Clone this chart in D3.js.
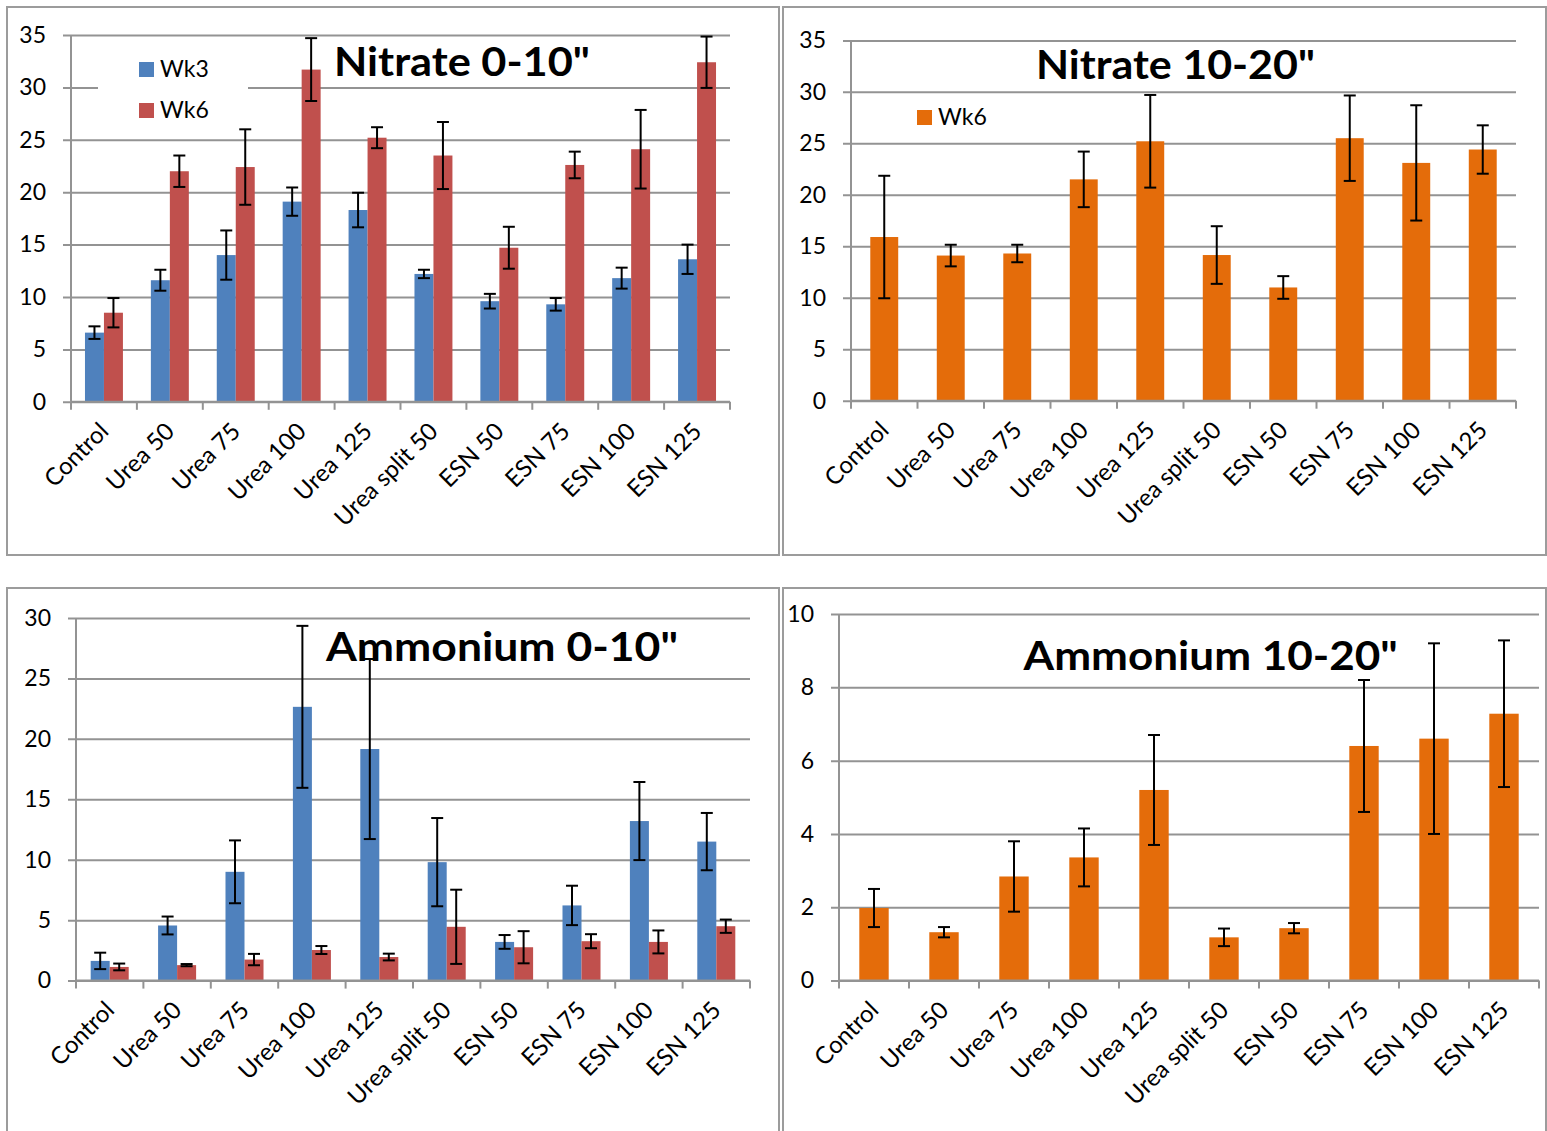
<!DOCTYPE html>
<html>
<head>
<meta charset="utf-8">
<script src="https://cdn.jsdelivr.net/npm/d3@7"></script>
<style>
  html, body { margin: 0; padding: 0; background: #fff; }
  svg { display: block; }
</style>
</head>
<body>
<svg id="chart" width="1547" height="1131"></svg>
<script>
// ---------- DATA ----------
const categories = ["Control", "Urea 50", "Urea 75", "Urea 100", "Urea 125", "Urea split 50", "ESN 50", "ESN 75", "ESN 100", "ESN 125"];

const nitrate0_10_wk3     = [6.6, 11.6, 14.0, 19.1, 18.3, 12.2, 9.6, 9.3, 11.8, 13.6];
const nitrate0_10_wk3_err = [0.6, 1.0, 2.35, 1.35, 1.65, 0.4, 0.7, 0.6, 1.0, 1.4];
const nitrate0_10_wk6     = [8.5, 22.0, 22.4, 31.7, 25.2, 23.5, 14.7, 22.6, 24.1, 32.4];
const nitrate0_10_wk6_err = [1.4, 1.5, 3.6, 3.0, 1.0, 3.2, 2.0, 1.27, 3.75, 2.45];

const nitrate10_20_wk6     = [15.9, 14.1, 14.3, 21.5, 25.2, 14.15, 11.0, 25.5, 23.1, 24.4];
const nitrate10_20_wk6_err = [5.95, 1.05, 0.85, 2.7, 4.5, 2.8, 1.1, 4.15, 5.6, 2.35];

const ammonium0_10_wk3     = [1.63, 4.56, 9.0, 22.65, 19.16, 9.8, 3.2, 6.22, 13.2, 11.5];
const ammonium0_10_wk3_err = [0.68, 0.74, 2.6, 6.7, 7.45, 3.65, 0.57, 1.63, 3.23, 2.37];
const ammonium0_10_wk6     = [1.13, 1.28, 1.74, 2.53, 1.95, 4.45, 2.76, 3.26, 3.2, 4.5];
const ammonium0_10_wk6_err = [0.28, 0.09, 0.47, 0.33, 0.28, 3.07, 1.33, 0.58, 0.95, 0.55];

const ammonium10_20_wk6     = [1.98, 1.32, 2.84, 3.36, 5.2, 1.18, 1.43, 6.4, 6.6, 7.28];
const ammonium10_20_wk6_err = [0.52, 0.14, 0.96, 0.79, 1.5, 0.24, 0.14, 1.8, 2.6, 2.0];

const ticksNitrate = [0, 5, 10, 15, 20, 25, 30, 35];
const ticksAmm0_10 = [0, 5, 10, 15, 20, 25, 30];
const ticksAmm10_20 = [0, 2, 4, 6, 8, 10];

const titles = ["Nitrate 0-10\"", "Nitrate 10-20\"", "Ammonium 0-10\"", "Ammonium 10-20\""];

// ---------- STYLE ----------
const COL_WK3 = "#4F81BD", COL_WK6 = "#C0504D", COL_ORANGE = "#E46C0A";
const FONT = "Lato, 'Open Sans', sans-serif";
const GRID = "#939393";

const panels = [
  {
    box: [7, 7, 779, 555], left: 71, right: 730, top: 35, bottom: 401.8,
    ticks: ticksNitrate, title: titles[0], titleX: [334, 590], titleY: 76, groupFrac: 0.576,
    series: [
      { name: "Wk3", values: nitrate0_10_wk3, err: nitrate0_10_wk3_err, color: COL_WK3 },
      { name: "Wk6", values: nitrate0_10_wk6, err: nitrate0_10_wk6_err, color: COL_WK6 }
    ],
    legend: { bg: [98, 50, 150, 80], x: 139, y: [62, 103] }
  },
  {
    box: [783, 7, 1546, 555], left: 851, right: 1516, top: 40.4, bottom: 400.7,
    ticks: ticksNitrate, title: titles[1], titleX: [1036, 1315], titleY: 79, groupFrac: 0.42,
    series: [
      { name: "Wk6", values: nitrate10_20_wk6, err: nitrate10_20_wk6_err, color: COL_ORANGE }
    ],
    legend: { bg: null, x: 917, y: [110] }
  },
  {
    box: [7, 588, 779, 1145], left: 76, right: 750, top: 618, bottom: 980.6,
    ticks: ticksAmm0_10, title: titles[2], titleX: [326, 678], titleY: 661, groupFrac: 0.564,
    series: [
      { name: "Wk3", values: ammonium0_10_wk3, err: ammonium0_10_wk3_err, color: COL_WK3 },
      { name: "Wk6", values: ammonium0_10_wk6, err: ammonium0_10_wk6_err, color: COL_WK6 }
    ],
    legend: null
  },
  {
    box: [783, 588, 1546, 1145], left: 839, right: 1539, top: 614, bottom: 980.6,
    ticks: ticksAmm10_20, title: titles[3], titleX: [1023.6, 1397.8], titleY: 670, groupFrac: 0.42,
    series: [
      { name: "Wk6", values: ammonium10_20_wk6, err: ammonium10_20_wk6_err, color: COL_ORANGE }
    ],
    legend: null
  }
];

const svg = d3.select("#chart");
svg.append("rect").attr("width", 1547).attr("height", 1131).attr("fill", "#fff");

panels.forEach(p => {
  const g = svg.append("g");
  // panel border
  g.append("rect")
    .attr("x", p.box[0]).attr("y", p.box[1])
    .attr("width", p.box[2] - p.box[0]).attr("height", p.box[3] - p.box[1])
    .attr("fill", "#fff").attr("stroke", "#9c9c9c").attr("stroke-width", 2);

  const yMax = d3.max(p.ticks);
  const y = d3.scaleLinear().domain([0, yMax]).range([p.bottom, p.top]);
  const x = d3.scaleBand().domain(categories).range([p.left, p.right]).padding(0);
  const bw = x.bandwidth();
  const groupW = bw * p.groupFrac;
  const xs = d3.scaleBand().domain(p.series.map(s => s.name)).range([0, groupW]).padding(0);

  // gridlines (extend left past the axis as tick marks)
  const grid = g.append("g").attr("transform", `translate(${p.left - 8},0)`)
    .call(d3.axisRight(y).tickValues(p.ticks).tickSize(p.right - p.left + 8).tickFormat(""));
  grid.select(".domain").remove();
  grid.selectAll(".tick line").attr("stroke", GRID).attr("stroke-width", 2);

  // y tick labels
  const labels = g.append("g").attr("transform", `translate(${p.left},0)`)
    .call(d3.axisLeft(y).tickValues(p.ticks).tickSize(0).tickPadding(25));
  labels.select(".domain").remove();
  labels.selectAll("text").attr("font-family", FONT).attr("font-size", 23).attr("fill", "#000");

  // y axis line
  g.append("line").attr("x1", p.left).attr("x2", p.left).attr("y1", p.top).attr("y2", p.bottom)
    .attr("stroke", GRID).attr("stroke-width", 2);

  // legend background
  if (p.legend && p.legend.bg) {
    g.append("rect").attr("x", p.legend.bg[0]).attr("y", p.legend.bg[1])
      .attr("width", p.legend.bg[2]).attr("height", p.legend.bg[3]).attr("fill", "#fff");
  }

  // bars
  p.series.forEach(s => {
    const sg = g.append("g");
    sg.selectAll("rect").data(categories).join("rect")
      .attr("x", (c) => x(c) + (bw - groupW) / 2 + xs(s.name))
      .attr("width", xs.bandwidth())
      .attr("y", (c, i) => y(s.values[i]))
      .attr("height", (c, i) => p.bottom - y(s.values[i]))
      .attr("fill", s.color);
  });

  // x axis with boundary ticks
  const xb = g.append("g").attr("transform", `translate(0,${p.bottom})`);
  xb.append("line").attr("x1", p.left).attr("x2", p.right).attr("stroke", GRID).attr("stroke-width", 2);
  const bounds = categories.map(c => x(c)).concat([p.right]);
  xb.selectAll("line.tk").data(bounds).join("line").attr("class", "tk")
    .attr("x1", d => d).attr("x2", d => d).attr("y1", 0).attr("y2", 8)
    .attr("stroke", GRID).attr("stroke-width", 2);

  // error bars
  p.series.forEach(s => {
    const eg = g.append("g").attr("stroke", "#000").attr("stroke-width", 2);
    categories.forEach((c, i) => {
      const cx = x(c) + (bw - groupW) / 2 + xs(s.name) + xs.bandwidth() / 2;
      const hi = y(s.values[i] + s.err[i]), lo = y(Math.max(0, s.values[i] - s.err[i]));
      eg.append("line").attr("x1", cx).attr("x2", cx).attr("y1", hi).attr("y2", lo);
      eg.append("line").attr("x1", cx - 6).attr("x2", cx + 6).attr("y1", hi).attr("y2", hi);
      eg.append("line").attr("x1", cx - 6).attr("x2", cx + 6).attr("y1", lo).attr("y2", lo);
    });
  });

  // category labels
  g.append("g").selectAll("text").data(categories).join("text")
    .attr("transform", c => `translate(${x(c) + bw / 2 + 6},${p.bottom + 31}) rotate(-45)`)
    .attr("text-anchor", "end")
    .attr("font-family", FONT).attr("font-size", 24).attr("fill", "#000")
    .text(c => c);

  // title
  g.append("text")
    .attr("x", p.titleX[0]).attr("y", p.titleY)
    .attr("font-family", FONT).attr("font-weight", "bold").attr("font-size", 40)
    .attr("textLength", p.titleX[1] - p.titleX[0]).attr("lengthAdjust", "spacingAndGlyphs")
    .attr("fill", "#000")
    .text(p.title);

  // legend
  if (p.legend) {
    p.series.forEach((s, i) => {
      g.append("rect").attr("x", p.legend.x).attr("y", p.legend.y[i]).attr("width", 15).attr("height", 15).attr("fill", s.color);
      g.append("text").attr("x", p.legend.x + 21).attr("y", p.legend.y[i] + 15)
        .attr("font-family", FONT).attr("font-size", 23).attr("fill", "#000").text(s.name);
    });
  }
});
</script>
</body>
</html>
